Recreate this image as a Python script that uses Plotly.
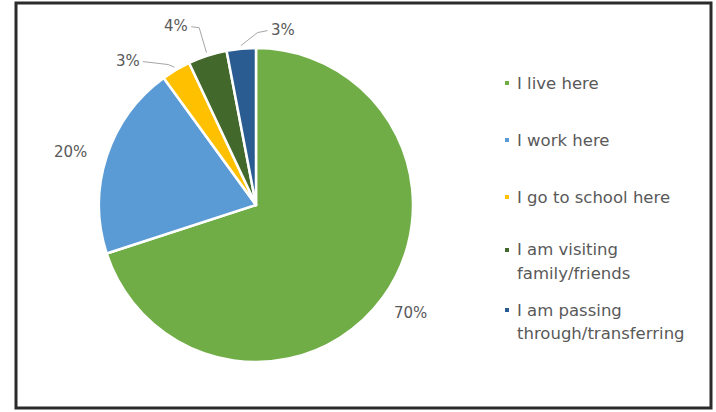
import math
import plotly.graph_objects as go

# Why respondents are at this location
categories = [
    "I live here",
    "I work here",
    "I go to school here",
    "I am visiting<br>family/friends",
    "I am passing<br>through/transferring",
]
shares = [70, 20, 3, 4, 3]
colors = ["#70AD47", "#5B9BD5", "#FFC000", "#43682B", "#2A5C92"]

W, H = 716, 412
CX, CY, R = 256, 205, 157          # pie centre and radius in pixels
TEXT = "#595959"
FONT = "DejaVu Sans"


def px(x):
    return x / W


def py(y):
    return 1 - y / H


fig = go.Figure(
    go.Pie(
        labels=categories,
        values=shares,
        sort=False,
        direction="clockwise",
        rotation=0,
        marker=dict(colors=colors, line=dict(color="white", width=2.5)),
        textinfo="none",
        hoverinfo="label+percent",
        showlegend=False,
        domain=dict(x=[px(CX - R), px(CX + R)], y=[py(CY + R), py(CY - R)]),
    )
)

# Mid-angle of each slice, clockwise from 12 o'clock
total = sum(shares)
mids, acc = [], 0
for v in shares:
    mids.append((acc + v / 2) / total * 360)
    acc += v


def polar(theta, r):
    t = math.radians(theta)
    return CX + r * math.sin(t), CY - r * math.cos(t)


# Label placement per slice: (angle shift, radius factor, leader side)
label_pos = [(-1, 1.20, None), (-2, 1.23, None), (-11, 1.23, "right"),
             (-6, 1.25, "right"), (14, 1.13, "left")]

annotations, shapes = [], []
for v, th, (dth, rf, side) in zip(shares, mids, label_pos):
    lx, ly = polar(th + dth, R * rf)
    annotations.append(dict(
        x=px(lx), y=py(ly), xref="paper", yref="paper",
        xanchor="center", yanchor="middle",
        text=f"{v}%", showarrow=False,
        font=dict(family=FONT, size=15, color=TEXT),
    ))
    if side:
        ex, ey = polar(th, R * 1.02)
        sgn = 1 if side == "right" else -1
        sx = lx + sgn * 15
        if side == "right" and ex - sx < 20:
            # short hook: across, then down to the slice
            mid = (sx + 8, ly + 2)
        elif side == "right":
            mid = (sx + 0.8 * (ex - sx), ly + 0.6 * (ey - ly))
        else:
            mid = (sx - 10, ly + 3)
        path = (f"M {px(sx)} {py(ly + 1)} L {px(mid[0])} {py(mid[1])} "
                f"L {px(ex)} {py(ey)}")
        shapes.append(dict(type="path", path=path, xref="paper", yref="paper",
                           line=dict(color="#A6A6A6", width=1)))

# Legend: small square swatches with text to the right
legend_y = [83, 140, 197, 250, 310]
LINE_GAP = 23
for name, col, y in zip(categories, colors, legend_y):
    shapes.append(dict(type="rect", xref="paper", yref="paper",
                       x0=px(505), x1=px(509), y0=py(y + 2), y1=py(y - 2),
                       fillcolor=col, line=dict(width=0)))
    for i, line in enumerate(name.split("<br>")):
        annotations.append(dict(
            x=px(515), y=py(y + i * LINE_GAP), xref="paper", yref="paper",
            xanchor="left", yanchor="middle", align="left",
            text=line, showarrow=False,
            font=dict(family=FONT, size=16.5, color=TEXT),
        ))

# Dark frame around the chart area
shapes.append(dict(type="rect", xref="paper", yref="paper",
                   x0=px(16), x1=px(711), y0=py(408), y1=py(3),
                   line=dict(color="#2B2B2B", width=3)))

fig.update_layout(
    width=W, height=H,
    margin=dict(l=0, r=0, t=0, b=0),
    paper_bgcolor="white",
    plot_bgcolor="white",
    annotations=annotations,
    shapes=shapes,
)

fig.write_html("out.html")
